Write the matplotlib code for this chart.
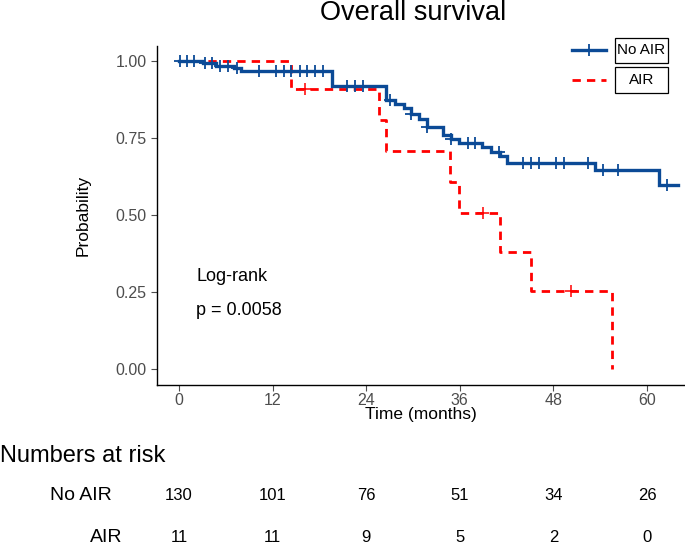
import numpy as np
import matplotlib
matplotlib.use("Agg")
import matplotlib.pyplot as plt
from matplotlib.lines import Line2D
from matplotlib.patches import Rectangle

plt.rcParams['font.family'] = ['Liberation Sans', 'DejaVu Sans']

# ---- data ----
groups = ["No AIR", "AIR"]
noair_times = [0, 3.1, 4.8, 7.0, 8.0, 19.6, 26.6, 27.7, 28.8, 29.8, 30.8, 31.8,
               33.8, 34.9, 35.9, 38.9, 40.0, 41.1, 42.1, 53.3, 61.6]
noair_surv = [1.0, 0.992, 0.984, 0.976, 0.968, 0.920, 0.873, 0.862, 0.847, 0.827,
              0.811, 0.787, 0.760, 0.746, 0.734, 0.722, 0.706, 0.690, 0.670, 0.645, 0.598]
noair_end = 64.0
noair_censor = [0.1, 1.0, 1.9, 3.3, 4.2, 5.3, 6.3, 7.4, 10.3, 12.4, 13.4, 14.4, 15.5,
                16.4, 17.4, 18.4, 21.5, 22.6, 23.6, 27.0, 29.8, 31.8, 34.9, 37.0,
                37.9, 41.0, 44.1, 45.1, 46.2, 48.3, 49.3, 52.4, 54.4, 56.3, 62.5]

air_times = [0, 14.3, 25.6, 26.6, 34.7, 35.9, 41.1, 45.1, 55.5]
air_surv = [1.0, 0.909, 0.808, 0.707, 0.606, 0.505, 0.379, 0.253, 0.0]
air_censor = [16.2, 39.0, 50.3]

x_ticks = [0, 12, 24, 36, 48, 60]
y_ticks = [0.0, 0.25, 0.50, 0.75, 1.00]
y_ticklabels = ["0.00", "0.25", "0.50", "0.75", "1.00"]
risk_noair = [130, 101, 76, 51, 34, 26]
risk_air = [11, 11, 9, 5, 2, 0]
pval_text = "p = 0.0058"

blue = "#0b4a96"
red = "#ff0000"

W, H = 685, 547
fig = plt.figure(figsize=(W / 100, H / 100), dpi=100)
L, R, T, B = 157, 684, 46, 385
ax = fig.add_axes([L / W, 1 - B / H, (R - L) / W, (B - T) / H])


def step_at(times, surv, t):
    idx = np.searchsorted(times, t, side='right') - 1
    return surv[idx]


# No AIR curve
tx = list(noair_times) + [noair_end]
ty = list(noair_surv) + [noair_surv[-1]]
ax.step(tx, ty, where='post', color=blue, lw=2.4, solid_joinstyle='miter', zorder=3)
cy = [step_at(noair_times, noair_surv, t) for t in noair_censor]
ax.plot(noair_censor, cy, ls='none', marker='+', ms=9, mew=1.3, color=blue, zorder=4)

# AIR curve
ax.step(air_times, air_surv, where='post', color=red, lw=2.0, dashes=(3, 2.2), zorder=2)
cy = [step_at(air_times, air_surv, t) for t in air_censor]
ax.plot(air_censor, cy, ls='none', marker='+', ms=9, mew=1.1, color=red, zorder=4)

ax.set_xlim((L - 179) / 7.8, (R - 179) / 7.8)
ax.set_ylim((369 - B) / 308, (369 - T) / 308)
ax.set_xticks(x_ticks)
ax.set_yticks(y_ticks)
ax.set_yticklabels(y_ticklabels)
ax.tick_params(colors='#4d4d4d', labelsize=11.5, length=4, width=0.8)
ax.tick_params(axis='x', pad=2)
for s in ['top', 'right']:
    ax.spines[s].set_visible(False)
for s in ['left', 'bottom']:
    ax.spines[s].set_linewidth(1.0)
    ax.spines[s].set_color('black')

ax.set_xlabel("Time (months)", fontsize=12.5, labelpad=-1)
ax.set_ylabel("Probability", fontsize=12.5, labelpad=18)

ax.text(2.2, 0.30, "Log-rank", fontsize=13, ha='left', va='center')
ax.text(2.2, 0.19, pval_text, fontsize=13, ha='left', va='center')

fig.text(413 / W, 1 - 13.5 / H, "Overall survival", fontsize=19.5, ha='center', va='center')

# legend
def fx(x):
    return x / W


def fy(y):
    return 1 - y / H


fig.add_artist(Line2D([fx(572), fx(606)], [fy(50), fy(50)], color=blue, lw=2.4))
fig.add_artist(Line2D([fx(589)], [fy(50)], marker='|', ms=9, mew=1.3, color=blue))
fig.add_artist(Line2D([fx(572), fx(606)], [fy(80), fy(80)], color=red, lw=2.0, dashes=(3, 2.2)))
for (y0, y1, lab) in [(38, 63, groups[0]), (67, 93, groups[1])]:
    fig.add_artist(Rectangle((fx(615), fy(y1)), (668 - 615) / W, (y1 - y0) / H,
                             transform=fig.transFigure, fill=False, ec='black', lw=0.9))
    fig.text(fx(641.5), fy((y0 + y1) / 2), lab, fontsize=11, ha='center', va='center')

# risk table
fig.text(fx(0), fy(456), "Numbers at risk", fontsize=17, ha='left', va='center')
fig.text(fx(112), fy(496), groups[0], fontsize=14, ha='right', va='center')
fig.text(fx(122), fy(537), groups[1], fontsize=14, ha='right', va='center')
for t, n1, n2 in zip(x_ticks, risk_noair, risk_air):
    xpix = 179 + t * 7.8
    fig.text(fx(xpix), fy(496), str(n1), fontsize=12, ha='center', va='center')
    fig.text(fx(xpix), fy(537), str(n2), fontsize=12, ha='center', va='center')

fig.savefig("out.png", dpi=100)
